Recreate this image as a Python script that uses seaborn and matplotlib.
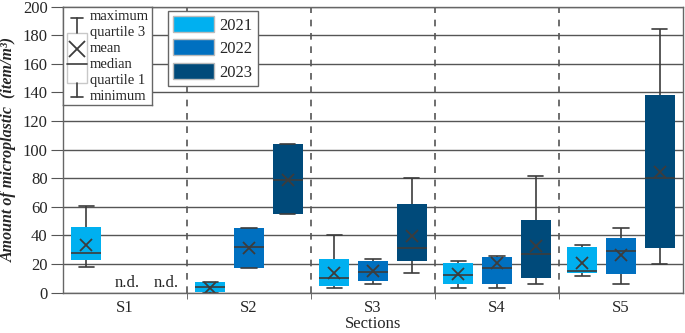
import pandas as pd
import seaborn as sns
import matplotlib.pyplot as plt
from matplotlib.patches import Patch, Rectangle

sections = ['S1', 'S2', 'S3', 'S4', 'S5']
years = ['2021', '2022', '2023']

# (minimum, quartile 1, median, quartile 3, maximum) per section, None = n.d.
box_2021 = [(18, 23, 27.5, 46, 60.5), (0, 0.5, 4, 7.5, 7.5), (3, 4.5, 10, 23.5, 40.5),
            (3, 6, 12.5, 21, 22.5), (11.5, 13.5, 15.5, 32, 33.5)]
box_2022 = [None, (17.5, 17.5, 32, 45.5, 45.5), (6, 8.5, 14.5, 22, 23.5),
            (3, 6, 17.5, 25, 25.5), (6, 13, 29, 38.5, 45)]
box_2023 = [None, (55, 55, 79, 104, 104), (14, 22, 31, 62, 80.5),
            (6, 10.5, 27, 51, 81.5), (20, 31, 80, 138.5, 184.5)]

mean_2021 = [33.5, 3.5, 14, 13, 21]
mean_2022 = [None, 31, 15, 20.5, 26.5]
mean_2023 = [None, 78.5, 39.5, 32.5, 84.5]

palette = {'2021': '#00b0f0', '2022': '#0070c0', '2023': '#004a7a'}

# long-form tables
rows = []
for year, boxes in zip(years, [box_2021, box_2022, box_2023]):
    for sec, vals in zip(sections, boxes):
        if vals is None:
            continue
        for v in vals:
            rows.append((sec, year, v))
df = pd.DataFrame(rows, columns=['section', 'year', 'value'])

mrows = []
for year, means in zip(years, [mean_2021, mean_2022, mean_2023]):
    for sec, m in zip(sections, means):
        if m is not None:
            mrows.append((sec, year, m))
df_mean = pd.DataFrame(mrows, columns=['section', 'year', 'value'])

sns.set_style('ticks')
plt.rcParams['font.family'] = ['Liberation Serif', 'DejaVu Serif']
plt.rcParams['mathtext.fontset'] = 'stix'

fig = plt.figure(figsize=(6.85, 3.33), dpi=100)
ax = fig.add_axes([0.092, 0.121, 0.905, 0.859])

width = 0.94
slot = width / len(years)
line_col = '#3c3c3c'

sns.boxplot(data=df, x='section', y='value', hue='year', order=sections, hue_order=years,
            palette=palette, width=width, gap=0.22, whis=(0, 100), saturation=1,
            linecolor=line_col, linewidth=1.2, legend=False, ax=ax,
            boxprops=dict(edgecolor='none'))

sns.pointplot(data=df_mean, x='section', y='value', hue='year', order=sections,
              hue_order=years, palette=[line_col] * 3, dodge=2 * slot, markers='x',
              linestyle='none', errorbar=None, legend=False, ax=ax,
              markersize=9, markeredgewidth=1.3)

# n.d. labels for S1
for k in (1, 2):
    ax.text(0 + (k - 1) * slot + slot * 0.05, 1, 'n.d.', ha='center', va='bottom', fontsize=12)

ax.set_xlim(-0.5, 4.5)
ax.set_ylim(0, 200)
ax.set_yticks(range(0, 201, 20))
ax.yaxis.grid(True, color='#555555', lw=1)
ax.set_axisbelow(True)
for x in [0.5, 1.5, 2.5, 3.5]:
    ax.axvline(x, color='#555555', lw=1.2, ls=(0, (4, 4)), zorder=1)

ax.set_xticks(range(len(sections)))
ax.set_xticklabels(sections)
ax.set_xticks([0.5, 1.5, 2.5, 3.5], minor=True)
ax.tick_params(axis='x', which='major', length=0, labelsize=12, pad=5)
ax.tick_params(axis='x', which='minor', length=4, color='#555555', direction='out')
ax.tick_params(axis='y', length=9, color='#555555', labelsize=12, pad=2)
for s in ax.spines.values():
    s.set_color('#666666')
    s.set_linewidth(1)

ax.set_xlabel('Sections', fontsize=12, labelpad=0)
ax.set_ylabel('Amount of microplastic  (item/m³)', fontsize=11.5, fontweight='bold',
              fontstyle='italic', labelpad=4)

# year legend
handles = [Patch(facecolor=palette[y], edgecolor='#bbbbbb', label=y) for y in years]
leg = ax.legend(handles=handles, loc='upper left', bbox_to_anchor=(0.169, 0.985),
                borderaxespad=0, frameon=True, fancybox=False, framealpha=1,
                edgecolor='#666666', handlelength=2.5, handleheight=1.1,
                labelspacing=0.35, borderpad=0.3, handletextpad=0.3, fontsize=12)
leg.get_frame().set_linewidth(1)

# box explanation key
key = ax.inset_axes([0, 0.656, 0.144, 0.344])
key.set_xlim(0, 89)
key.set_ylim(99, 0)
key.set_xticks([])
key.set_yticks([])
key.set_facecolor('white')
for s in key.spines.values():
    s.set_color('#666666')
    s.set_linewidth(1)
key.add_patch(Rectangle((4, 26), 20, 51, facecolor='white', edgecolor='#c8c8c8', lw=1))
key.plot([14, 14], [11, 26], color=line_col, lw=1.2)
key.plot([14, 14], [77, 91], color=line_col, lw=1.2)
key.plot([8, 20], [11, 11], color=line_col, lw=1.2)
key.plot([8, 20], [91, 91], color=line_col, lw=1.2)
key.plot([4, 24], [58, 58], color=line_col, lw=1.2)
key.plot([14], [43], marker='x', color=line_col, markersize=11, markeredgewidth=1.3)
for yy, txt in zip([10, 26, 42, 58, 74, 90],
                   ['maximum', 'quartile 3', 'mean', 'median', 'quartile 1', 'minimum']):
    key.text(27, yy, txt, va='center', ha='left', fontsize=10.5)

fig.savefig('out.png', dpi=100)
